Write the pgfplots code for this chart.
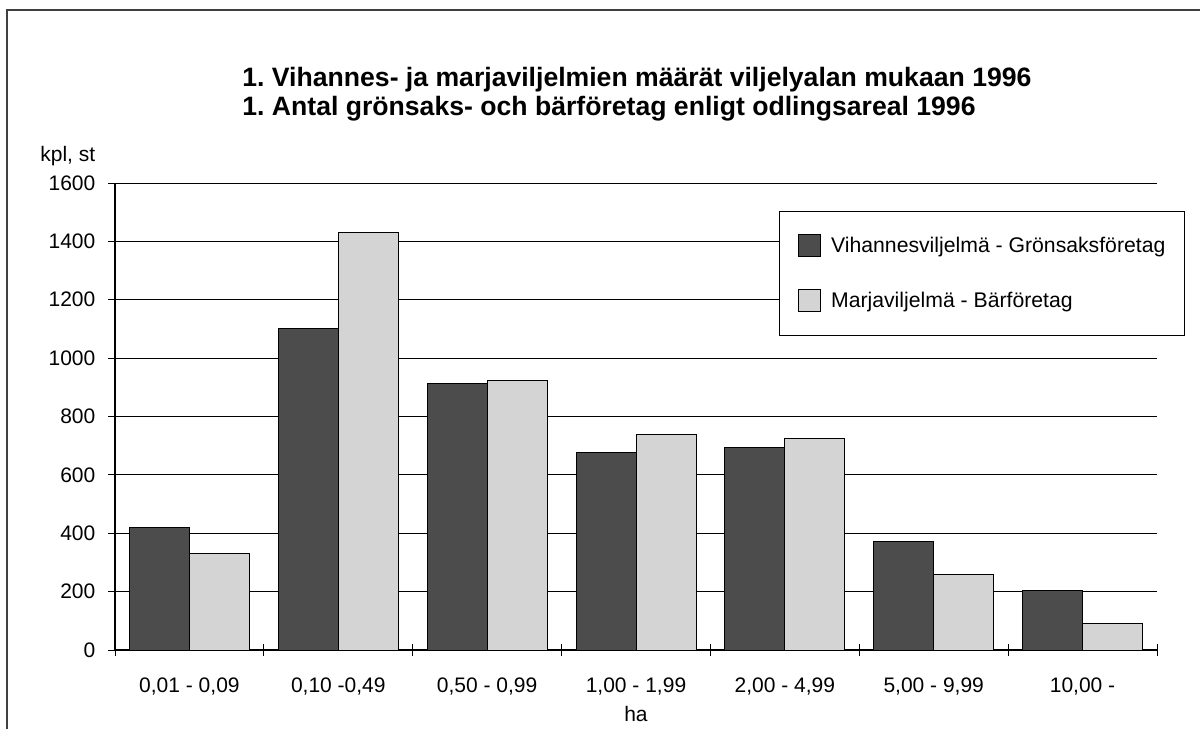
\documentclass[border=0pt]{standalone}
\usepackage{pgfplots}
\pgfplotsset{compat=1.18}
\usepackage{fontspec}
\setmainfont{Liberation Sans}
\frenchspacing
\definecolor{darkbar}{gray}{0.30}
\definecolor{lightbar}{gray}{0.83}
\pgfplotsset{mysq/.style={legend image code/.code={\draw[##1] (0pt,-5.5pt) rectangle (11pt,5.5pt);}}}
\begin{document}
\begin{tikzpicture}
\useasboundingbox (0,0) rectangle (600pt,364.5pt);
\draw[line width=0.8pt, black!75] (3.5pt,0) -- (3.5pt,359.5pt) -- (600pt,359.5pt);
\node[anchor=base west, font=\bfseries\fontsize{13.3}{15}\selectfont, inner sep=0pt] at (121pt,321.25pt) {1. Vihannes- ja marjaviljelmien määrät viljelyalan mukaan 1996};
\node[anchor=base west, font=\bfseries\fontsize{13.3}{15}\selectfont, inner sep=0pt] at (121pt,306.5pt) {1. Antal grönsaks- och bärföretag enligt odlingsareal 1996};
\node[anchor=west, font=\fontsize{10.5}{12}\selectfont, inner sep=0pt] at (20pt,286.5pt) {kpl, st};
\begin{axis}[
  at={(57.5pt,39.5pt)}, anchor=south west,
  scale only axis, width=521pt, height=233.5pt,
  ybar=0pt, bar width=30pt,
  xmin=-0.5, xmax=6.5, ymin=0, ymax=1600,
  ytick={0,200,...,1600},
  ymajorgrids, grid style={black, line width=0.5pt},
  axis lines=left, axis line style={-, black, line width=0.6pt},
  xtick={0,...,6},
  xticklabels={{0,01 - 0,09},{0,10 -0,49},{0,50 - 0,99},{1,00 - 1,99},{2,00 - 4,99},{5,00 - 9,99},{10,00 -}},
  minor xtick={-0.5,0.5,...,6.5},
  xtick align=center, ytick align=outside,
  major tick length=3.5pt, minor tick length=6pt,
  major x tick style={draw=none},
  tick style={black, line width=0.5pt},
  /pgf/number format/assume math mode=true,
  /pgf/number format/1000 sep={},
  tick label style={font=\fontsize{10.5}{12}\selectfont},
  yticklabel style={xshift=-2.8pt},
  xticklabel style={yshift=-8.5pt},
  xlabel={ha},
  xlabel style={font=\fontsize{10.5}{12}\selectfont, at={(axis description cs:0.5,0)}, anchor=center, yshift=-32pt},
  legend cell align=left,
  legend style={at={(0.637,0.940)}, anchor=north west, draw=black, fill=white,
    font=\fontsize{10.6}{12}\selectfont, inner xsep=9.5pt, inner ysep=11.5pt, row sep=16pt,
    nodes={inner sep=0pt},
    /tikz/every odd column/.style={column sep=5pt}},
]
\addplot[fill=darkbar, draw=black, line width=0.5pt, mysq]
  coordinates {(0,420) (1,1100) (2,912) (3,678) (4,693) (5,373) (6,203)};
\addplot[fill=lightbar, draw=black, line width=0.5pt, mysq]
  coordinates {(0,330) (1,1430) (2,922) (3,737) (4,726) (5,257) (6,92)};
\legend{Vihannesviljelmä - Grönsaksföretag, Marjaviljelmä - Bärföretag}
\end{axis}
\end{tikzpicture}
\end{document}
